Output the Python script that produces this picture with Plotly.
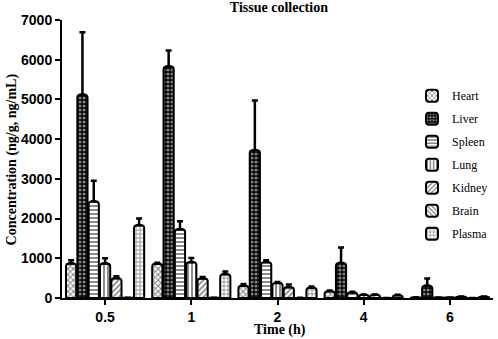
import plotly.graph_objects as go

times = ["0.5", "1", "2", "4", "6"]
tissues = ["Heart", "Liver", "Spleen", "Lung", "Kidney", "Brain", "Plasma"]

heart = [870, 860, 310, 170, 15]
heart_err = [80, 30, 40, 20, 5]
liver = [5120, 5830, 3720, 880, 310]
liver_err = [1570, 400, 1250, 390, 180]
spleen = [2430, 1730, 900, 140, 12]
spleen_err = [520, 200, 50, 15, 3]
lung = [870, 900, 380, 80, 10]
lung_err = [130, 110, 20, 10, 2]
kidney = [500, 490, 270, 80, 30]
kidney_err = [50, 40, 70, 10, 5]
brain = [4, 4, 3, 2, 2]
brain_err = [1, 1, 1, 1, 1]
plasma = [1830, 600, 260, 70, 30]
plasma_err = [170, 65, 30, 10, 5]

values = [heart, liver, spleen, lung, kidney, brain, plasma]
errors = [heart_err, liver_err, spleen_err, lung_err, kidney_err, brain_err, plasma_err]
patterns = [
    dict(shape="x", fgcolor="black", bgcolor="white", size=4, solidity=0.45),
    dict(shape=".", fgcolor="white", bgcolor="black", size=4, solidity=0.5),
    dict(shape="-", fgcolor="black", bgcolor="white", size=4, solidity=0.45),
    dict(shape="|", fgcolor="black", bgcolor="white", size=4, solidity=0.45),
    dict(shape="/", fgcolor="black", bgcolor="white", size=4, solidity=0.4),
    dict(shape="\\", fgcolor="black", bgcolor="white", size=4, solidity=0.4),
    dict(shape="+", fgcolor="black", bgcolor="white", size=4, solidity=0.35),
]

fig = go.Figure()
for name, v, e, p in zip(tissues, values, errors, patterns):
    fig.add_trace(go.Bar(
        name=name, x=times, y=v,
        marker=dict(color="white", pattern=p, line=dict(color="black", width=2), cornerradius=3),
        error_y=dict(type="data", array=e, arrayminus=[0] * len(e), symmetric=False,
                     color="black", thickness=2.5, width=3),
        legendgroup=name,
    ))

serif = "Liberation Serif, Times New Roman, serif"
sans = "Liberation Sans, Arial, sans-serif"

fig.update_layout(
    width=498, height=339,
    margin=dict(l=62, r=5, t=20, b=41),
    paper_bgcolor="white", plot_bgcolor="white",
    barmode="group", bargap=0.08, bargroupgap=0.1,
    title=dict(text="<b>Tissue collection</b>", x=0.56, xanchor="center", y=0.995, yanchor="top",
               font=dict(family=serif, size=14, color="black")),
    legend=dict(x=1.0, y=0.78, xanchor="right", yanchor="top", bgcolor="rgba(0,0,0,0)",
                font=dict(family=serif, size=12, color="black"), tracegroupgap=4,
                itemwidth=30),
    xaxis=dict(type="category", showline=True, linecolor="black", linewidth=2,
               ticks="outside", ticklen=5, tickwidth=2, tickcolor="black", automargin=False,
               tickfont=dict(family=sans, size=14, color="black", weight="bold")),
    yaxis=dict(range=[0, 7000], dtick=1000, showline=True, linecolor="black", linewidth=2,
               ticks="outside", ticklen=5, tickwidth=2, tickcolor="black", showgrid=False,
               zeroline=False, automargin=False,
               tickfont=dict(family=sans, size=14, color="black", weight="bold")),
    showlegend=True,
    annotations=[
        dict(text="<b>Time (h)</b>", xref="paper", yref="paper", x=0.505, y=-0.116,
             xanchor="center", yanchor="middle", showarrow=False,
             font=dict(family=serif, size=14, color="black")),
        dict(text="<b>Concentration (ng/g, ng/mL)</b>", xref="paper", yref="paper",
             x=-0.115, y=0.5, xanchor="center", yanchor="middle", textangle=-90,
             showarrow=False, font=dict(family=serif, size=14, color="black")),
    ],
)
fig.write_html("out.html", config={"displayModeBar": False},
               post_script="document.body.style.margin='0';document.body.style.padding='0';")
